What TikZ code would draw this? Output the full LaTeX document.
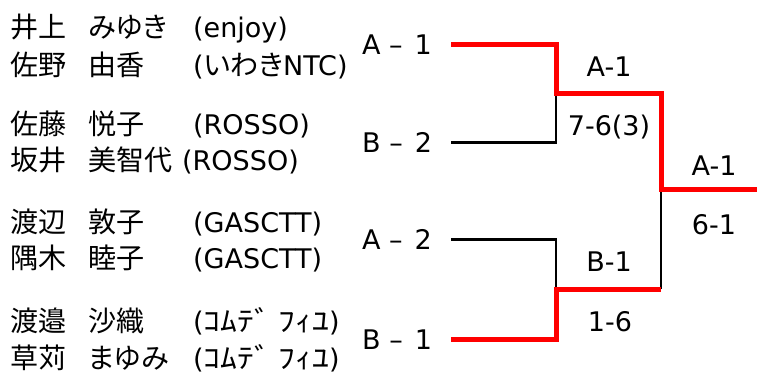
\documentclass[tikz,border=0pt]{standalone}
\usepackage{fontspec}
\setmainfont{DejaVu Sans}
\newfontfamily\jp{Noto Sans CJK JP}[Scale=1.04, RawFeature=+palt]
\usetikzlibrary{positioning}

\newcommand\player[4][105pt]{\makebox[78pt][l]{\jp #2}\makebox[#1][l]{\jp #3}#4}
\newcommand\hankaku[1]{\scalebox{1.2}[1]{\jp #1}}

\tikzset{
  player/.style={anchor=base west, inner sep=0pt, font=\fontsize{27}{31}\selectfont},
  seed/.style={anchor=base west, inner sep=0pt, font=\fontsize{27}{31}\selectfont},
  score/.style={anchor=base, inner sep=0pt, font=\fontsize{27}{31}\selectfont},
  loser/.style={line width=2.6pt, black},
  winner/.style={line width=5pt, red}
}

\begin{document}
\begin{tikzpicture}[x=1pt, y=-1pt]
  \useasboundingbox (0,0) rectangle (757,374);

  \node [player] (p1) at (10,37.5) {\player{井上}{みゆき}{(enjoy)}};
  \node [player] (p2) at (10,75.5) {\player{佐野}{由香}{({\jp いわき}NTC)}};
  \node [player] (p3) at (10,134.5) {\player{佐藤}{悦子}{(ROSSO)}};
  \node [player] (p4) at (10,170.5) {\player[94pt]{坂井}{美智代}{(ROSSO)}};
  \node [player] (p5) at (10,232.5) {\player{渡辺}{敦子}{(GASCTT)}};
  \node [player] (p6) at (10,268.5) {\player{隅木}{睦子}{(GASCTT)}};
  \node [player] (p7) at (10,331.5) {\player{渡邉}{沙織}{(\hankaku{ｺﾑﾃﾞ ﾌｨﾕ})}};
  \node [player] (p8) at (10,368.5) {\player{草苅}{まゆみ}{(\hankaku{ｺﾑﾃﾞ ﾌｨﾕ})}};

  \node [seed] (a1) at (362,54.5) {A –\hspace{12pt}1};
  \node [seed] (b2) at (362,152.5) {B –\hspace{12pt}2};
  \node [seed] (a2) at (362,249.5) {A –\hspace{12pt}2};
  \node [seed] (b1) at (362,349.5) {B –\hspace{12pt}1};

  \coordinate (m1) at (556,94);
  \coordinate (m2) at (556,289);
  \coordinate (f) at (661,190);
  \coordinate (w) at (757,190);

  \node [score] (s1) at (609,76.5) {A-1};
  \node [score] (r1) at (609,135.5) {7-6(3)};
  \node [score] (s2) at (609,271.5) {B-1};
  \node [score] (r2) at (610,331.5) {1-6};
  \node [score] (s3) at (714,175.5) {A-1};
  \node [score] (r3) at (714,234.5) {6-1};

  \draw [loser] ([xshift=19pt]b2.east) -| (m1);
  \draw [loser] ([xshift=19pt]a2.east) -| (m2);
  \draw [loser] (f |- m2) -- (f);

  \draw [winner] ([xshift=19pt]a1.east) -| (m1) -- (f |- m1) -- (f) -- (w);
  \draw [winner] ([xshift=19pt]b1.east) -| (m2) -- (f |- m2);

\end{tikzpicture}
\end{document}
